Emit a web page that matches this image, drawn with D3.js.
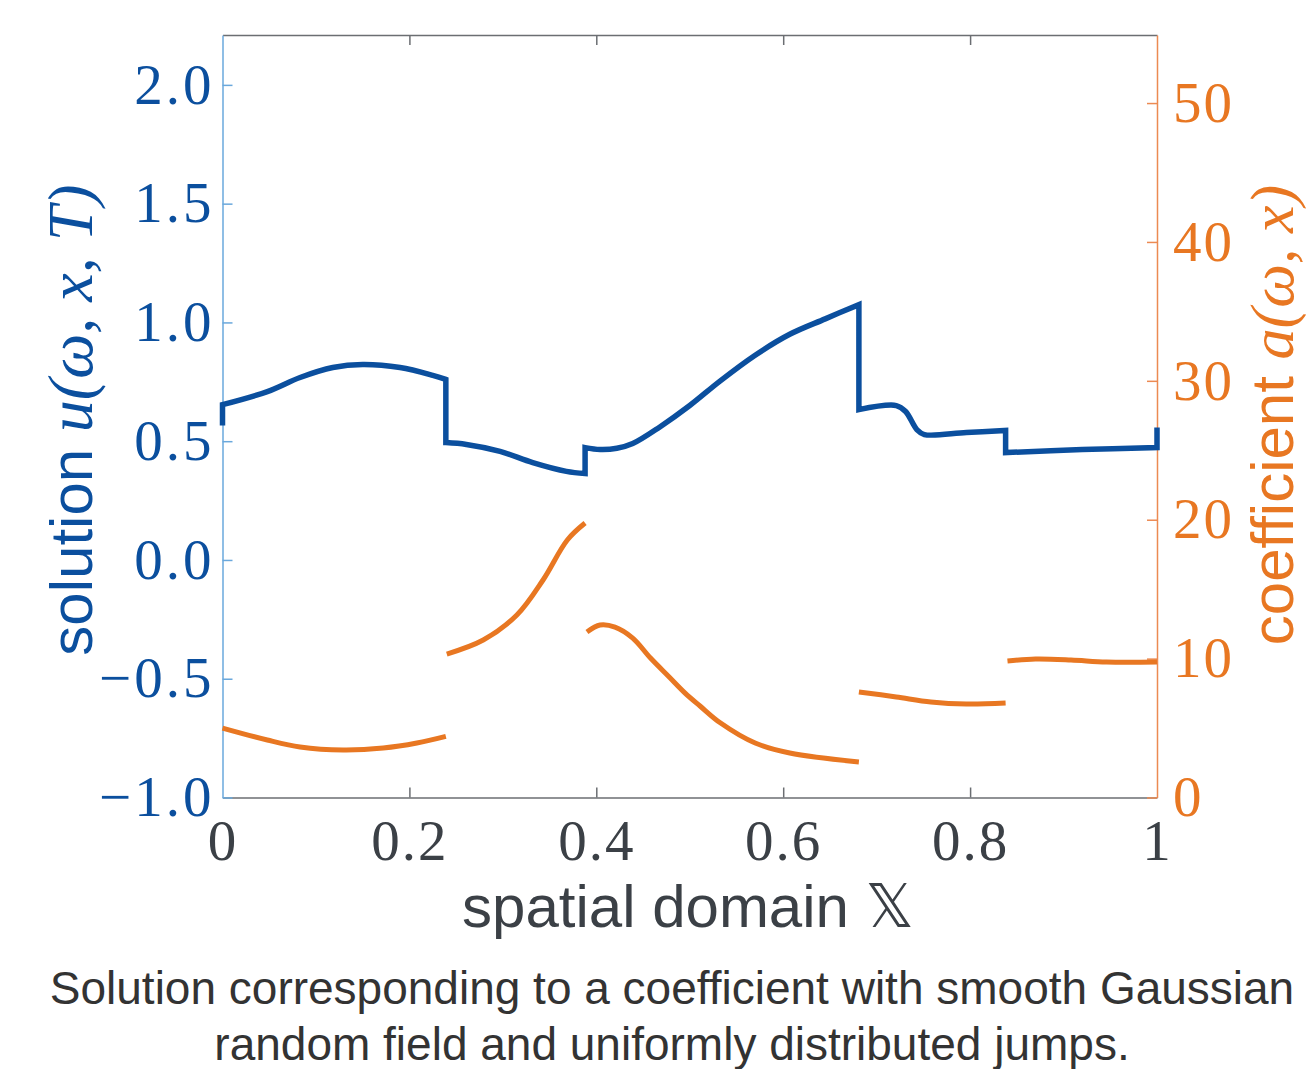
<!DOCTYPE html>
<html>
<head>
<meta charset="utf-8">
<script src="https://cdn.jsdelivr.net/npm/d3@7"></script>
<style>
  body { margin: 0; background: #fff; }
  svg { display: block; }
</style>
</head>
<body>
<svg id="chart" width="1306" height="1069"></svg>
<script>
// solution u(omega, x, T) -- pieces joined by vertical jumps
var solX = [
  [0, 0],
  [0, 0.048, 0.083, 0.118, 0.150, 0.190, 0.225, 0.239],
  [0.239, 0.261, 0.297, 0.332, 0.368, 0.388],
  [0.388, 0.404, 0.422, 0.439, 0.468, 0.500, 0.532, 0.570, 0.607, 0.645, 0.681],
  [0.681, 0.721, 0.731, 0.743, 0.751, 0.796, 0.838],
  [0.838, 0.920, 1.0],
  [1.0, 1.0]
];
var solU = [
  [0.566, 0.654],
  [0.654, 0.709, 0.768, 0.810, 0.823, 0.810, 0.777, 0.760],
  [0.494, 0.486, 0.457, 0.410, 0.373, 0.364],
  [0.473, 0.465, 0.470, 0.490, 0.560, 0.650, 0.752, 0.862, 0.950, 1.015, 1.075],
  [0.633, 0.650, 0.625, 0.549, 0.528, 0.537, 0.545],
  [0.452, 0.465, 0.473],
  [0.473, 0.558]
];

// coefficient a(omega, x) -- separate pieces
var coefX = [
  [0, 0.048, 0.083, 0.129, 0.172, 0.208, 0.239],
  [0.240, 0.279, 0.315, 0.343, 0.369, 0.388],
  [0.390, 0.404, 0.420, 0.439, 0.458, 0.478, 0.495, 0.511, 0.533, 0.570, 0.607, 0.681],
  [0.681, 0.721, 0.758, 0.796, 0.838],
  [0.840, 0.870, 0.908, 0.946, 1.0]
];
var coefA = [
  [5.0, 4.14, 3.64, 3.42, 3.56, 3.92, 4.40],
  [10.33, 11.34, 13.14, 15.66, 18.54, 19.76],
  [11.92, 12.42, 12.27, 11.48, 10.04, 8.68, 7.52, 6.59, 5.36, 3.92, 3.20, 2.56],
  [7.60, 7.24, 6.88, 6.73, 6.80],
  [9.83, 9.97, 9.90, 9.75, 9.75]
];

var xTicks = [0, 0.2, 0.4, 0.6, 0.8, 1];
var xTickLabels = ['0', '0.2', '0.4', '0.6', '0.8', '1'];
var uTicks = [-1, -0.5, 0, 0.5, 1, 1.5, 2];
var aTicks = [0, 10, 20, 30, 40, 50];

var blue = '#0b4f9e', blueAxis = '#6aa8dc';
var orange = '#e87722', orangeAxis = '#ec8a52';
var gray = '#3b4046';

var svg = d3.select('#chart');
var m = {left: 222.5, right: 1157, top: 35, bottom: 797.5};

var x = d3.scaleLinear().domain([0, 1]).range([m.left, m.right]);
var yU = d3.scaleLinear().domain([-1, 2.21]).range([m.bottom, m.top]);
var yA = d3.scaleLinear().domain([0, 54.9]).range([m.bottom, m.top]);

// top and bottom frame
svg.append('g')
    .attr('transform', 'translate(0,' + m.top + ')')
    .call(d3.axisTop(x).tickValues(xTicks.slice(1, -1)).tickSize(-10).tickSizeOuter(0).tickFormat(''))
    .call(function(g) { g.selectAll('line, path').attr('stroke', '#6b6e72').attr('stroke-width', 1.5); });

var bx = svg.append('g')
    .attr('transform', 'translate(0,' + m.bottom + ')')
    .call(d3.axisBottom(x).tickValues(xTicks).tickSize(-10).tickSizeOuter(0).tickPadding(22)
      .tickFormat(function(d, i) { return xTickLabels[i]; }));
bx.selectAll('line, path').attr('stroke', '#6b6e72').attr('stroke-width', 1.5);
bx.selectAll('text').attr('fill', gray).attr('font-family', 'Liberation Serif')
    .attr('font-size', 57).attr('letter-spacing', 2);
bx.selectAll('.tick').filter(function(d) { return d === 0 || d === 1; }).select('line').remove();

// left axis
var ly = svg.append('g')
    .attr('transform', 'translate(' + m.left + ',0)')
    .call(d3.axisLeft(yU).tickValues(uTicks).tickSize(-10).tickSizeOuter(0).tickPadding(8)
      .tickFormat(function(d) { return d < 0 ? '\u2212' + Math.abs(d).toFixed(1) : d.toFixed(1); }));
ly.selectAll('line, path').attr('stroke', blueAxis).attr('stroke-width', 1.5);
ly.selectAll('text').attr('fill', blue).attr('font-family', 'Liberation Serif')
    .attr('font-size', 57).attr('letter-spacing', 3);

// right axis
var ry = svg.append('g')
    .attr('transform', 'translate(' + m.right + ',0)')
    .call(d3.axisRight(yA).tickValues(aTicks).tickSize(-10).tickSizeOuter(0).tickPadding(16));
ry.selectAll('line, path').attr('stroke', orangeAxis).attr('stroke-width', 1.5);
ry.selectAll('text').attr('fill', orange).attr('font-family', 'Liberation Serif')
    .attr('font-size', 57).attr('letter-spacing', 2);

// curves
var lineU = d3.line().x(function(d) { return x(d[0]); }).y(function(d) { return yU(d[1]); })
    .curve(d3.curveCatmullRom.alpha(0.5));
var jumpU = d3.line().x(function(d) { return x(d[0]); }).y(function(d) { return yU(d[1]); });
var lineA = d3.line().x(function(d) { return x(d[0]); }).y(function(d) { return yA(d[1]); })
    .curve(d3.curveCatmullRom.alpha(0.5));

var solPath = solX.map(function(xs, i) {
  var pts = xs.map(function(v, j) { return [v, solU[i][j]]; });
  var d = (xs[0] === xs[xs.length - 1]) ? jumpU(pts) : lineU(pts);
  return i ? 'L' + d.slice(1) : d;
}).join('');

coefX.forEach(function(xs, i) {
  var pts = xs.map(function(v, j) { return [v, coefA[i][j]]; });
  svg.append('path')
      .attr('d', lineA(pts))
      .attr('fill', 'none')
      .attr('stroke', orange)
      .attr('stroke-width', 5);
});

svg.append('path')
    .attr('d', solPath)
    .attr('fill', 'none')
    .attr('stroke', blue)
    .attr('stroke-width', 5.5)
    .attr('stroke-linejoin', 'miter');

// axis titles
var xl = svg.append('text')
    .attr('x', 688).attr('y', 927)
    .attr('text-anchor', 'middle')
    .attr('fill', gray)
    .attr('font-family', 'Liberation Sans')
    .attr('font-size', 60);
xl.append('tspan').text('spatial domain ');
xl.append('tspan').attr('font-family', 'DejaVu Sans').text('\uD835\uDD4F');

var yl = svg.append('text')
    .attr('transform', 'translate(92,420) rotate(-90)')
    .attr('text-anchor', 'middle')
    .attr('fill', blue)
    .attr('font-family', 'Liberation Sans')
    .attr('font-size', 60);
yl.append('tspan').text('solution ');
yl.append('tspan').attr('font-family', 'Liberation Serif').attr('font-style', 'italic')
    .attr('font-size', 64).text('u(\u03C9, x, T)');

var al = svg.append('text')
    .attr('transform', 'translate(1293,415) rotate(-90)')
    .attr('text-anchor', 'middle')
    .attr('fill', orange)
    .attr('font-family', 'Liberation Sans')
    .attr('font-size', 60);
al.append('tspan').text('coefficient ');
al.append('tspan').attr('font-family', 'Liberation Serif').attr('font-style', 'italic')
    .attr('font-size', 62).text('a(\u03C9, x)');

// caption
var caption = [
  'Solution corresponding to a coefficient with smooth Gaussian',
  'random field and uniformly distributed jumps.'
];
svg.selectAll('.cap')
    .data(caption)
  .enter().append('text')
    .attr('class', 'cap')
    .attr('x', 672)
    .attr('y', function(d, i) { return 1004 + i * 56; })
    .attr('text-anchor', 'middle')
    .attr('fill', '#333')
    .attr('font-family', 'Liberation Sans')
    .attr('font-size', 46)
    .text(function(d) { return d; });
</script>
</body>
</html>
